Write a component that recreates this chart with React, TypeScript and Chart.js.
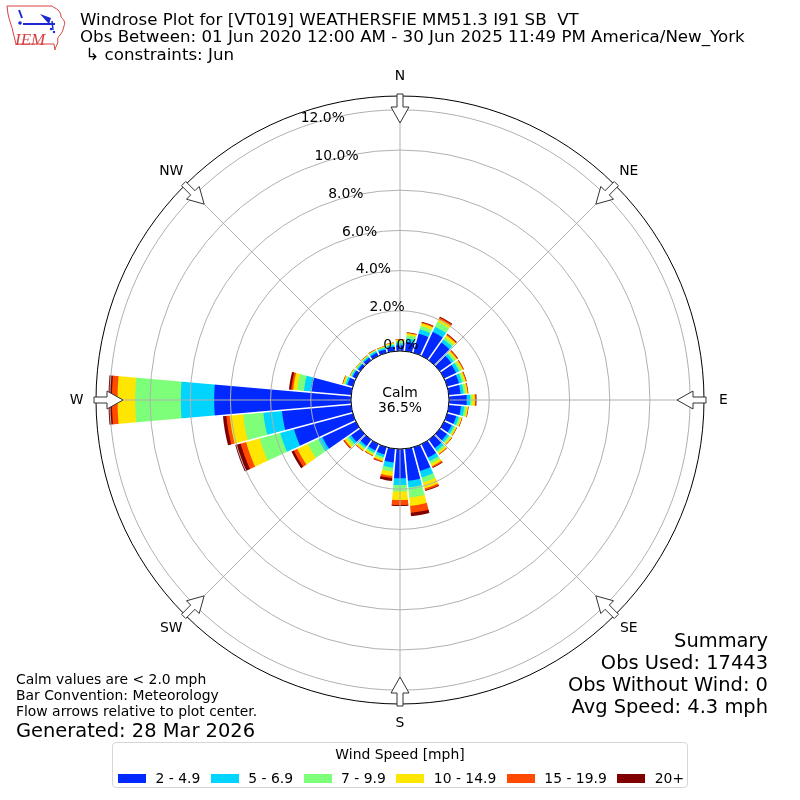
import React, { useEffect, useRef } from "react";
import { Chart, registerables } from "chart.js";

Chart.register(...registerables);

// ---------- data ----------
const DIRECTIONS = [0, 10, 20, 30, 40, 50, 60, 70, 80, 90, 100, 110, 120, 130, 140, 150, 160, 170, 180, 190, 200, 210, 220, 230, 240, 250, 260, 270, 280, 290, 300, 310, 320, 330, 340, 350];
const SPEED_BINS = ["2 - 4.9", "5 - 6.9", "7 - 9.9", "10 - 14.9", "15 - 19.9", "20+"];
const COLORS = ["#0028ff", "#00d4ff", "#7dff7a", "#ffe600", "#ff4a00", "#800000"];

const SPEED_2_5 = [0.28, 0.47, 0.99, 1.32, 1.08, 0.71, 0.66, 0.61, 0.59, 0.88, 0.61, 0.47, 0.42, 0.44, 0.52, 0.75, 1.23, 1.6, 1.46, 0.68, 0.38, 0.35, 0.38, 0.56, 1.84, 3.03, 3.46, 6.81, 2.02, 0.28, 0.18, 0.14, 0.16, 0.18, 0.18, 0.23];
const SPEED_5_7 = [0.11, 0.17, 0.23, 0.28, 0.19, 0.14, 0.17, 0.15, 0.15, 0.17, 0.16, 0.13, 0.12, 0.13, 0.15, 0.19, 0.33, 0.33, 0.33, 0.26, 0.13, 0.11, 0.11, 0.14, 0.22, 0.71, 0.93, 1.66, 0.34, 0.09, 0.07, 0.06, 0.07, 0.08, 0.08, 0.08];
const SPEED_7_10 = [0.11, 0.16, 0.17, 0.28, 0.12, 0.11, 0.12, 0.11, 0.11, 0.11, 0.11, 0.09, 0.09, 0.09, 0.11, 0.14, 0.26, 0.51, 0.33, 0.2, 0.11, 0.09, 0.09, 0.13, 0.58, 1.06, 1.01, 2.27, 0.34, 0.08, 0.05, 0.05, 0.05, 0.05, 0.05, 0.06];
const SPEED_10_15 = [0.07, 0.09, 0.14, 0.16, 0.13, 0.09, 0.09, 0.09, 0.09, 0.13, 0.08, 0.07, 0.06, 0.07, 0.09, 0.14, 0.31, 0.42, 0.42, 0.22, 0.09, 0.08, 0.08, 0.12, 0.58, 0.7, 0.67, 0.88, 0.2, 0.06, 0.03, 0.03, 0.03, 0.03, 0.03, 0.04];
const SPEED_15_20 = [0.02, 0.04, 0.05, 0.08, 0.06, 0.05, 0.04, 0.04, 0.03, 0.05, 0.02, 0.02, 0.02, 0.02, 0.03, 0.07, 0.09, 0.34, 0.25, 0.11, 0.05, 0.03, 0.03, 0.06, 0.19, 0.28, 0.17, 0.28, 0.1, 0.02, 0.01, 0.01, 0.01, 0.02, 0.02, 0.02];
const SPEED_20_UP = [0, 0.01, 0.03, 0.04, 0.03, 0.02, 0.01, 0.01, 0.01, 0.03, 0.01, 0.01, 0.01, 0.01, 0.01, 0.03, 0.04, 0.17, 0.05, 0.14, 0.02, 0.01, 0.01, 0.02, 0.13, 0.28, 0.17, 0.17, 0.11, 0.01, 0, 0, 0, 0, 0, 0];

const CALM_PERCENT = 36.5;
const RING_TICKS = [0, 2, 4, 6, 8, 10, 12];
const COMPASS_LABELS = ["N", "NE", "E", "SE", "S", "SW", "W", "NW"];
const COMPASS_DEGREES = [0, 45, 90, 135, 180, 225, 270, 315];

const TITLE_LINES = [
  "Windrose Plot for [VT019] WEATHERSFIE MM51.3 I91 SB  VT",
  "Obs Between: 01 Jun 2020 12:00 AM - 30 Jun 2025 11:49 PM America/New_York",
  " \u21b3 constraints: Jun",
];
const SUMMARY_LINES = ["Summary", "Obs Used: 17443", "Obs Without Wind: 0", "Avg Speed: 4.3 mph"];
const NOTE_LINES = ["Calm values are < 2.0 mph", "Bar Convention: Meteorology", "Flow arrows relative to plot center."];
const GENERATED = "Generated: 28 Mar 2026";
const LEGEND_TITLE = "Wind Speed [mph]";

// ---------- scale settings ----------
const R_MIN = -2.44;
const R_MAX = 12.69;
const FONT = "'DejaVu Sans', 'Liberation Sans', sans-serif";

const SERIES = [SPEED_2_5, SPEED_5_7, SPEED_7_10, SPEED_10_15, SPEED_15_20, SPEED_20_UP];

function cumulative(level: number): number[] {
  return DIRECTIONS.map((_, d) => {
    let s = 0;
    for (let k = 0; k <= level; k++) s += SERIES[k][d];
    return Math.round(s * 1000) / 1000;
  });
}

function polar(cx: number, cy: number, r: number, deg: number) {
  const a = ((deg - 90) * Math.PI) / 180;
  return { x: cx + r * Math.cos(a), y: cy + r * Math.sin(a) };
}

const windrosePlugin = {
  id: "windrose",
  afterDatasetsDraw(chart: any) {
    const s = chart.scales.r;
    const ctx = chart.ctx as CanvasRenderingContext2D;
    const cx = s.xCenter;
    const cy = s.yCenter;
    const r0 = s.getDistanceFromCenterForValue(0);
    ctx.save();
    ctx.strokeStyle = "#ffffff";
    ctx.lineWidth = 1.6;
    DIRECTIONS.forEach((d) => {
      const p1 = polar(cx, cy, r0, d + 5);
      const p2 = polar(cx, cy, s.drawingArea, d + 5);
      ctx.beginPath();
      ctx.moveTo(p1.x, p1.y);
      ctx.lineTo(p2.x, p2.y);
      ctx.stroke();
    });
    ctx.restore();
  },
  afterDraw(chart: any) {
    const s = chart.scales.r;
    const ctx = chart.ctx as CanvasRenderingContext2D;
    const cx = s.xCenter;
    const cy = s.yCenter;
    const r0 = s.getDistanceFromCenterForValue(0);
    const rOut = s.drawingArea;
    ctx.save();
    // angle lines
    ctx.strokeStyle = "#b0b0b0";
    ctx.lineWidth = 1;
    COMPASS_DEGREES.forEach((d) => {
      const p1 = polar(cx, cy, r0, d);
      const p2 = polar(cx, cy, rOut, d);
      ctx.beginPath();
      ctx.moveTo(p1.x, p1.y);
      ctx.lineTo(p2.x, p2.y);
      ctx.stroke();
    });
    // calm disc
    ctx.beginPath();
    ctx.arc(cx, cy, r0, 0, Math.PI * 2);
    ctx.fillStyle = "#ffffff";
    ctx.fill();
    ctx.strokeStyle = "#000000";
    ctx.lineWidth = 1;
    ctx.stroke();
    ctx.fillStyle = "#000000";
    ctx.font = `13.9px ${FONT}`;
    ctx.textAlign = "center";
    ctx.textBaseline = "alphabetic";
    ctx.fillText("Calm", cx, cy - 3.5);
    ctx.fillText(`${CALM_PERCENT.toFixed(1)}%`, cx, cy + 11.5);
    // ring labels
    ctx.textAlign = "left";
    const sin20 = Math.sin((20 * Math.PI) / 180);
    const cos20 = Math.cos((20 * Math.PI) / 180);
    RING_TICKS.forEach((v) => {
      const R = s.getDistanceFromCenterForValue(v);
      ctx.fillText(`${v.toFixed(1)}%`, cx - R * sin20, cy - R * cos20 - 5);
    });
    // flow arrows
    const arrow: [number, number][] = [
      [306, -3], [293, -3], [293, -9], [277, 0], [293, 9], [293, 3], [306, 3],
    ];
    const scaleR = rOut / 304;
    COMPASS_DEGREES.forEach((d) => {
      const a = (d * Math.PI) / 180;
      const ux = Math.sin(a), uy = -Math.cos(a);
      const tx = Math.cos(a), ty = Math.sin(a);
      ctx.beginPath();
      arrow.forEach(([u, w], i) => {
        const uu = u * scaleR;
        const x = cx + uu * ux + w * tx;
        const y = cy + uu * uy + w * ty;
        if (i === 0) ctx.moveTo(x, y);
        else ctx.lineTo(x, y);
      });
      ctx.closePath();
      ctx.fillStyle = "#ffffff";
      ctx.fill();
      ctx.strokeStyle = "#333333";
      ctx.lineWidth = 1;
      ctx.stroke();
    });
    // compass labels
    ctx.fillStyle = "#000000";
    ctx.textAlign = "center";
    ctx.textBaseline = "middle";
    COMPASS_LABELS.forEach((lab, i) => {
      const p = polar(cx, cy, rOut + 19.5, COMPASS_DEGREES[i]);
      ctx.fillText(lab, p.x, p.y);
    });
    ctx.restore();
  },
};

function TextLine(props: { text: string; x: number; baseline: number; size: number; align?: "left" | "right" }) {
  const { text, x, baseline, size, align } = props;
  const top = baseline - 0.846 * size;
  const style: React.CSSProperties = {
    position: "absolute",
    top,
    fontFamily: FONT,
    fontSize: size,
    lineHeight: `${size}px`,
    whiteSpace: "pre",
    color: "#000",
  };
  if (align === "right") style.right = 800 - x;
  else style.left = x;
  return <div style={style}>{text}</div>;
}

function Logo() {
  return (
    <svg style={{ position: "absolute", left: 5, top: 4 }} width={62} height={48} viewBox="0 0 62 48">
      <path
        d="M2,2 L47,2 C49,4 51,4 53,6 C55,8 56,10 56,13 C58,15 61,18 59,22 C58,26 57,29 55,31 C53,33 52,35 53,38 C52,41 50,44 50,46 L49,40 L11,40 C10,36 9,32 8,28 C7,22 4,16 3,10 Z"
        fill="none"
        stroke="#d84040"
        strokeWidth={1}
      />
      <line x1={14} y1={6} x2={17} y2={14} stroke="#1a2ad0" strokeWidth={2} />
      <circle cx={15} cy={19} r={1.8} fill="#1a2ad0" />
      <line x1={18} y1={20} x2={50} y2={20} stroke="#1a2ad0" strokeWidth={2} />
      <path d="M35,10 L46,14 L44,20 Z" fill="#1a2ad0" />
      <line x1={47} y1={17} x2={48} y2={26} stroke="#1a2ad0" strokeWidth={1.5} />
      <circle cx={46} cy={25} r={1.2} fill="#1a2ad0" />
      <circle cx={49} cy={28} r={1.2} fill="#1a2ad0" />
      <text x={10} y={41} fontFamily="'Liberation Serif', 'DejaVu Serif', serif" fontStyle="italic" fontSize={17} fill="#d84040">
        IEM
      </text>
    </svg>
  );
}

export default function App() {
  const canvasRef = useRef<HTMLCanvasElement | null>(null);

  useEffect(() => {
    if (!canvasRef.current) return;
    const datasets = SPEED_BINS.map((name, i) => ({
      label: name,
      data: cumulative(i),
      backgroundColor: COLORS[i],
      borderWidth: 0,
      borderColor: "rgba(0,0,0,0)",
    }));
    const chart = new Chart(canvasRef.current, {
      type: "polarArea",
      data: { labels: DIRECTIONS.map((d) => `${d}`), datasets },
      options: {
        responsive: false,
        animation: false,
        events: [],
        layout: { padding: { left: 96, right: 96, top: 96, bottom: 96 } },
        plugins: {
          legend: { display: false },
          tooltip: { enabled: false },
          title: { display: false },
        },
        scales: {
          r: {
            type: "radialLinear",
            startAngle: -5,
            min: R_MIN,
            max: R_MAX,
            beginAtZero: false,
            ticks: { display: false },
            afterBuildTicks: (axis: any) => {
              axis.ticks = [...RING_TICKS.map((v) => ({ value: v })), { value: R_MAX }];
            },
            grid: {
              circular: true,
              z: 1,
              color: (c: any) => (c.tick && c.tick.value === R_MAX ? "#000000" : "#b0b0b0"),
              lineWidth: 1,
            },
            angleLines: { display: false },
            pointLabels: { display: false },
          },
        },
      } as any,
      plugins: [windrosePlugin],
    });
    return () => chart.destroy();
  }, []);

  // legend geometry
  return (
    <div style={{ position: "absolute", left: 0, top: 0, width: 800, height: 800, background: "#fff", overflow: "hidden" }}>
      <canvas ref={canvasRef} width={800} height={800} style={{ position: "absolute", left: 0, top: 0 }} />
      <Logo />
      {TITLE_LINES.map((t, i) => (
        <TextLine key={t} text={t} x={80} baseline={26 + i * 17.5} size={16.67} />
      ))}
      {SUMMARY_LINES.map((t, i) => (
        <TextLine key={t} text={t} x={768} baseline={647 + i * 22} size={19.44} align="right" />
      ))}
      {NOTE_LINES.map((t, i) => (
        <TextLine key={t} text={t} x={16} baseline={685 + i * 16} size={13.9} />
      ))}
      <TextLine text={GENERATED} x={16} baseline={737} size={19.44} />
      <div
        style={{
          position: "absolute",
          left: 112,
          top: 742,
          width: 574,
          height: 44,
          border: "1px solid #d6d6d6",
          borderRadius: 4,
          background: "rgba(255,255,255,0.8)",
        }}
      />
      <div
        style={{
          position: "absolute",
          left: 112,
          width: 576,
          top: 759.5 - 0.846 * 13.9,
          textAlign: "center",
          fontFamily: FONT,
          fontSize: 13.9,
          lineHeight: "13.9px",
          whiteSpace: "pre",
        }}
      >
        {LEGEND_TITLE}
      </div>
      <div
        style={{
          position: "absolute",
          left: 118,
          top: 774,
          display: "flex",
          alignItems: "flex-start",
          fontFamily: FONT,
          fontSize: 13.9,
          whiteSpace: "pre",
        }}
      >
        {SPEED_BINS.map((name, i) => (
          <div key={name} style={{ display: "flex", alignItems: "flex-start", marginRight: 10.5 }}>
            <div style={{ width: 28, height: 9.3, background: COLORS[i] }} />
            <div style={{ marginLeft: 9.5, lineHeight: "13.9px", marginTop: 9.5 - 0.846 * 13.9 }}>{name}</div>
          </div>
        ))}
      </div>
    </div>
  );
}
